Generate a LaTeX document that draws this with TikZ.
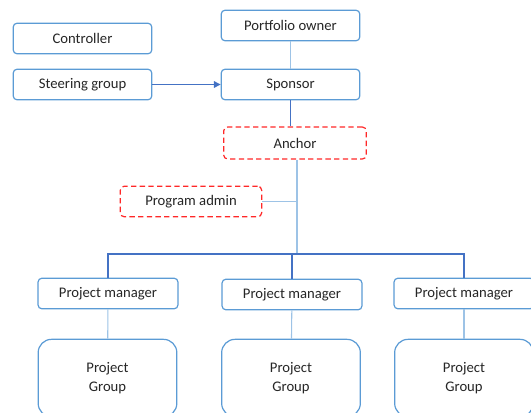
\documentclass[tikz,border=0pt]{standalone}
\usepackage{fontspec}
\setmainfont{Carlito}
\usetikzlibrary{arrows.meta}

\definecolor{boxblue}{RGB}{91,155,213}
\definecolor{lineblue}{RGB}{68,114,196}
\definecolor{paleblue}{RGB}{157,195,230}
\definecolor{dashred}{RGB}{255,40,40}
\definecolor{inkgray}{RGB}{38,38,38}

\tikzset{
  role/.style={draw=boxblue, line width=0.9pt, rounded corners=3pt, fill=white,
    minimum width=104pt, minimum height=23pt, inner sep=0pt,
    text=inkgray, font=\fontsize{11}{13}\selectfont},
  temp/.style={role, draw=dashred, dash pattern=on 4pt off 2.5pt},
  group/.style={role, rounded corners=10pt, minimum height=58pt, align=center,
    font=\fontsize{11}{14.5}\selectfont},
  link/.style={draw=lineblue, line width=0.8pt},
  soft/.style={draw=paleblue, line width=0.8pt}
}

\begin{document}
\begin{tikzpicture}[x=0.75pt, y=-0.75pt]

% Canvas
\clip (0,0) rectangle (531,412);

% Top level
\node[role] (ctrl) at (82.5,38.5) {Controller};
\node[role] (steer) at (82.5,84.5) {Steering group};
\node[role] (owner) at (290.5,25.5) {Portfolio owner};
\node[role] (sponsor) at (290.5,84.5) {Sponsor};

% Dashed support roles
\node[temp, minimum width=107pt, minimum height=24pt] (anchor) at (295,143) {Anchor};
\node[temp, minimum width=106pt] (admin) at (191,201.5) {Program admin};

% Projects
\node[role, minimum width=105pt] (pm1) at (108,293.5) {Project manager};
\node[role, minimum width=105pt] (pm2) at (292,294.5) {Project manager};
\node[role, minimum width=105pt] (pm3) at (464,293.5) {Project manager};

\node[group] (pg1) at (107.5,378) {Project\\Group};
\node[group] (pg2) at (291,378) {Project\\Group};
\node[group] (pg3) at (464,378) {Project\\Group};

% Connections
\draw[soft] (owner) -- (sponsor);
\draw[link, -{Triangle[length=5pt,width=5pt]}] (steer) -- (sponsor);
\draw[link] (sponsor.south) -- (sponsor.south |- anchor.north);
\coordinate (bus) at (297,254);
\draw[soft] (anchor.south -| bus) -- (bus);
\draw[soft] (admin.east) -- (admin.east -| bus);

% Bus to the project managers
\draw[link] (pm1.north) |- (bus) -| (pm3.north);
\draw[link] (bus -| pm2.north) -- (pm2.north);

\foreach \n in {1,2,3}
  \draw[soft] (pm\n) -- (pg\n);

\end{tikzpicture}
\end{document}
